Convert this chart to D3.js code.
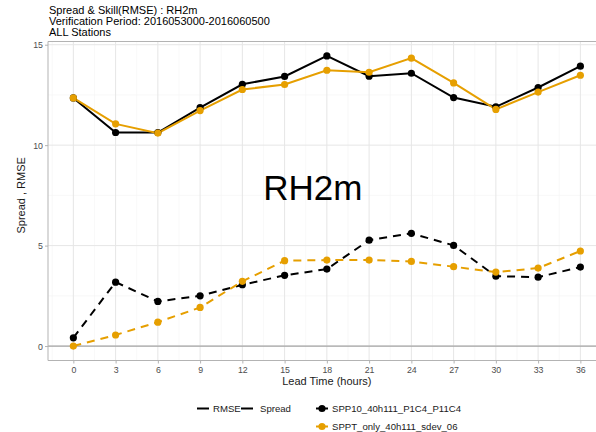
<!DOCTYPE html>
<html>
<head>
<meta charset="utf-8">
<script src="https://cdn.jsdelivr.net/npm/d3@7"></script>
<style>
  body { margin: 0; background: #fff; }
  svg { display: block; }
  svg text { font-family: "Liberation Sans", Arial, sans-serif; }
</style>
</head>
<body>
<div id="chart"></div>
<script>
const leadTimes = [0, 3, 6, 9, 12, 15, 18, 21, 24, 27, 30, 33, 36];

const rmseSpp10 = [12.35, 10.63, 10.63, 11.87, 13.03, 13.42, 14.44, 13.43, 13.58, 12.37, 11.91, 12.87, 13.93];
const rmseSppt = [12.35, 11.06, 10.60, 11.72, 12.77, 13.02, 13.73, 13.63, 14.33, 13.10, 11.78, 12.64, 13.48];
const spreadSpp10 = [0.41, 3.18, 2.22, 2.50, 3.05, 3.52, 3.83, 5.27, 5.61, 5.01, 3.48, 3.43, 3.93];
const spreadSppt = [0.0, 0.55, 1.19, 1.92, 3.22, 4.25, 4.28, 4.28, 4.21, 3.95, 3.68, 3.88, 4.73];

const yTicks = [0, 5, 10, 15];
const yMinor = [2.5, 7.5, 12.5];

const experiments = ["SPP10_40h111_P1C4_P11C4", "SPPT_only_40h111_sdev_06"];
const expColors = ["#000000", "#E69F00"];

const titleLines = [
  "Spread & Skill(RMSE) : RH2m",
  "Verification Period: 2016053000-2016060500",
  "ALL Stations"
];

const series = [
  { exp: 0, kind: "RMSE", values: rmseSpp10 },
  { exp: 1, kind: "RMSE", values: rmseSppt },
  { exp: 0, kind: "Spread", values: spreadSpp10 },
  { exp: 1, kind: "Spread", values: spreadSppt }
];

const width = 596, height = 432;
const margin = { top: 41.5, right: 0, bottom: 71.5, left: 48 };
const innerWidth = width - margin.left - margin.right;
const innerHeight = height - margin.top - margin.bottom;

const svg = d3.select("#chart").append("svg")
  .attr("width", width)
  .attr("height", height);

const chart = svg.append("g")
  .attr("transform", `translate(${margin.left},${margin.top})`);

// panel is cut at the right edge of the picture, so the domain ends short of 37.8
const x = d3.scaleLinear().domain([-1.8, 37.11]).range([0, innerWidth]);
const y = d3.scaleLinear().domain([-0.72, 15.16]).range([innerHeight, 0]);

// grid
const xMinor = [-1.5].concat(leadTimes.map(d => d + 1.5));
chart.selectAll(".vminor").data(xMinor).join("line")
  .attr("x1", d => x(d)).attr("x2", d => x(d))
  .attr("y1", 0).attr("y2", innerHeight)
  .attr("stroke", "#f3f3f3").attr("stroke-width", 0.6);
chart.selectAll(".hminor").data(yMinor).join("line")
  .attr("x1", 0).attr("x2", innerWidth)
  .attr("y1", d => y(d)).attr("y2", d => y(d))
  .attr("stroke", "#f3f3f3").attr("stroke-width", 0.6);
chart.selectAll(".vmajor").data(leadTimes).join("line")
  .attr("x1", d => x(d)).attr("x2", d => x(d))
  .attr("y1", 0).attr("y2", innerHeight)
  .attr("stroke", "#e6e6e6").attr("stroke-width", 1);
chart.selectAll(".hmajor").data(yTicks).join("line")
  .attr("x1", 0).attr("x2", innerWidth)
  .attr("y1", d => y(d)).attr("y2", d => y(d))
  .attr("stroke", "#e6e6e6").attr("stroke-width", 1);

// zero line
chart.append("line")
  .attr("x1", 0).attr("x2", innerWidth)
  .attr("y1", y(0)).attr("y2", y(0))
  .attr("stroke", "#a6a6a6").attr("stroke-width", 1.2);

// panel border: top, left, bottom (right side is off the picture)
chart.append("path")
  .attr("d", `M${innerWidth},0H0V${innerHeight}H${innerWidth}`)
  .attr("fill", "none").attr("stroke", "#b3b3b3").attr("stroke-width", 1);

// axes
const xAxis = chart.append("g")
  .attr("transform", `translate(0,${innerHeight})`)
  .call(d3.axisBottom(x).tickValues(leadTimes).tickSize(3).tickPadding(3));
const yAxis = chart.append("g")
  .call(d3.axisLeft(y).tickValues(yTicks).tickSize(3).tickPadding(2));
[xAxis, yAxis].forEach(g => {
  g.select(".domain").remove();
  g.attr("font-size", null).attr("font-family", null);
  g.selectAll(".tick line").attr("stroke", "#b3b3b3");
  g.selectAll(".tick text").attr("fill", "#4d4d4d")
    .attr("dy", null)
    .style("font-size", "8.8px");
});
xAxis.selectAll(".tick text").attr("y", 12.5);
yAxis.selectAll(".tick text").attr("y", 3.1);

chart.append("text")
  .attr("x", x(18)).attr("y", innerHeight + 24)
  .attr("text-anchor", "middle")
  .style("font-size", "11px").attr("fill", "#1a1a1a")
  .text("Lead Time (hours)");

chart.append("text")
  .attr("transform", "rotate(-90)")
  .attr("x", -y(7.5)).attr("y", -23)
  .attr("text-anchor", "middle")
  .style("font-size", "11px").attr("fill", "#1a1a1a")
  .text("Spread , RMSE");

// big label
chart.append("text")
  .attr("x", x(18) - 14).attr("y", y(7.26))
  .attr("text-anchor", "middle")
  .style("font-size", "35px").attr("fill", "#000")
  .text("RH2m");

// lines & points
const line = d3.line()
  .x((d, i) => x(leadTimes[i]))
  .y(d => y(d));

chart.selectAll(".series").data(series).join("path")
  .attr("d", d => line(d.values))
  .attr("fill", "none")
  .attr("stroke", d => expColors[d.exp])
  .attr("stroke-width", 2)
  .attr("stroke-dasharray", d => d.kind === "Spread" ? "8,6" : null);

series.forEach(s => {
  chart.selectAll(null).data(s.values).join("circle")
    .attr("cx", (d, i) => x(leadTimes[i]))
    .attr("cy", d => y(d))
    .attr("r", 3.6)
    .attr("fill", expColors[s.exp]);
});

// title
svg.selectAll(".title").data(titleLines).join("text")
  .attr("x", 49)
  .attr("y", (d, i) => 14 + i * 11.2)
  .style("font-size", "11px").attr("fill", "#000")
  .text(d => d);

// legend
const legend = svg.append("g");
const kinds = [
  { name: "RMSE", lineX: 197, textX: 213 },
  { name: "Spread", lineX: 241, textX: 260 }
];
kinds.forEach(k => {
  legend.append("line")
    .attr("x1", k.lineX).attr("x2", k.lineX + 12)
    .attr("y1", 408.5).attr("y2", 408.5)
    .attr("stroke", "#000").attr("stroke-width", 2);
  legend.append("text").attr("x", k.textX).attr("y", 412)
    .style("font-size", "9.6px").attr("fill", "#1a1a1a").text(k.name);
});

experiments.forEach((name, i) => {
  const ly = 408.5 + i * 18;
  legend.append("line")
    .attr("x1", 316).attr("x2", 328)
    .attr("y1", ly).attr("y2", ly)
    .attr("stroke", expColors[i]).attr("stroke-width", 2);
  legend.append("circle")
    .attr("cx", 322).attr("cy", ly).attr("r", 3.6)
    .attr("fill", expColors[i]);
  legend.append("text")
    .attr("x", 332).attr("y", ly + 3.5)
    .style("font-size", "9.6px").attr("fill", "#1a1a1a")
    .text(name);
});
</script>
</body>
</html>
